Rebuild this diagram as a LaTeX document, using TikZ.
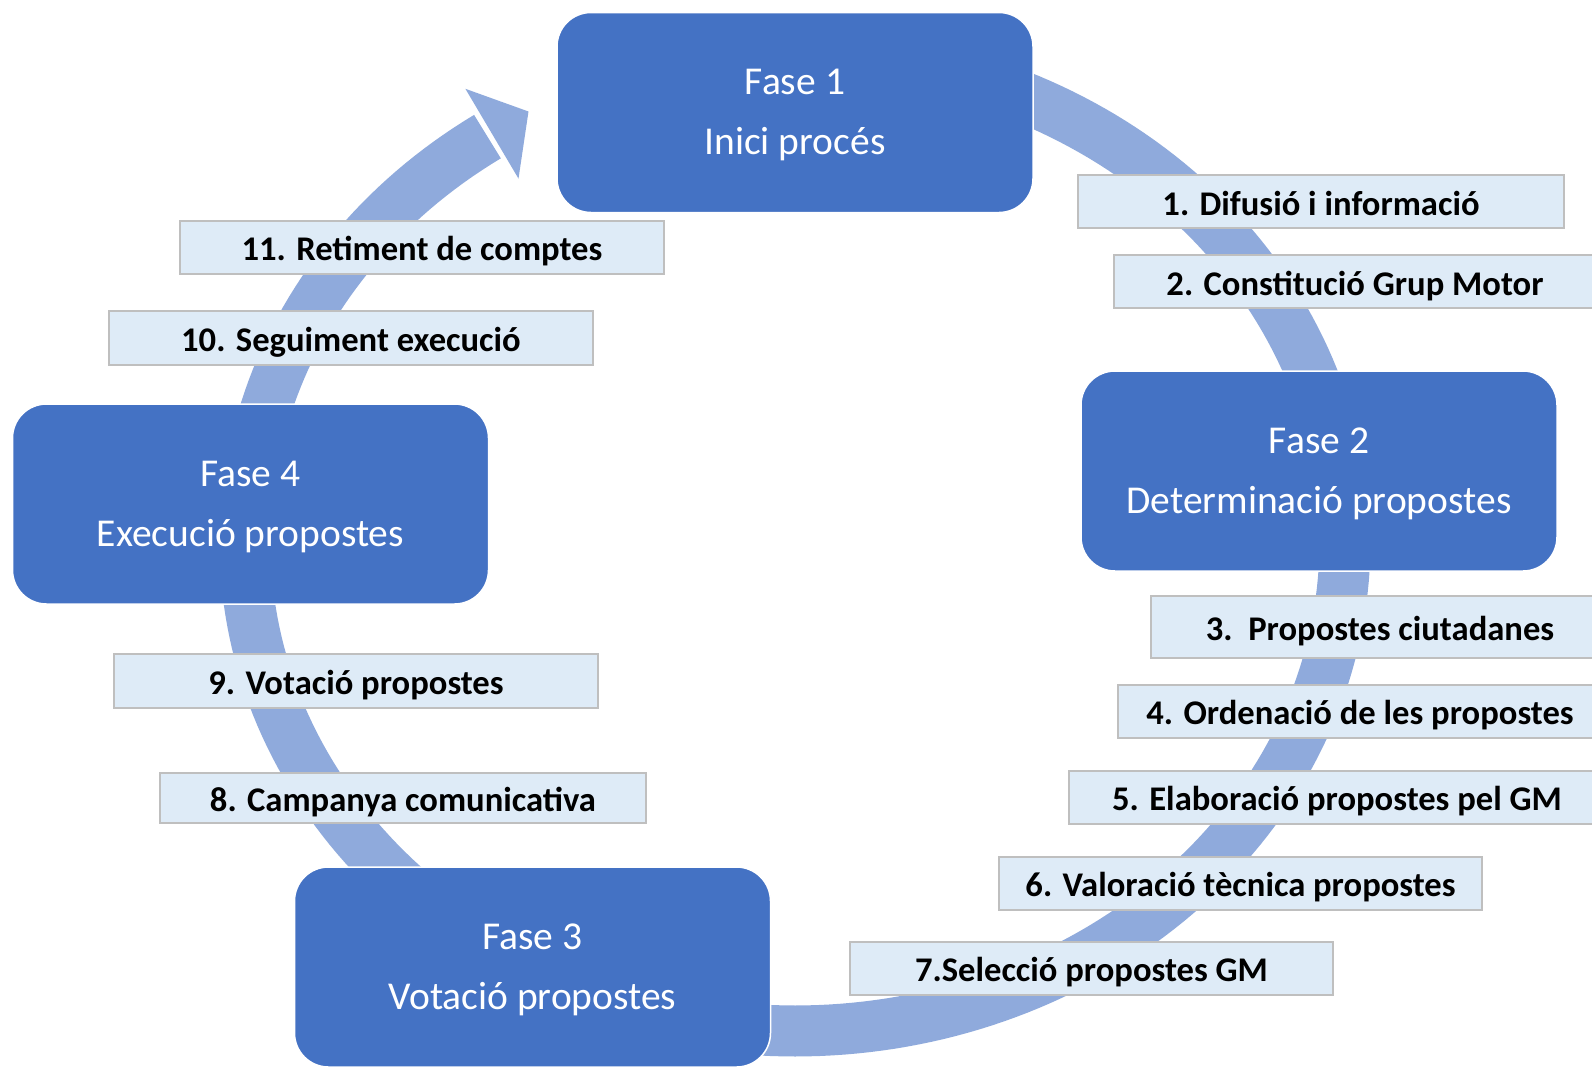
\documentclass[tikz,border=0pt]{standalone}
\usepackage{fontspec}
\setmainfont{Carlito}
\definecolor{phaseblue}{HTML}{4472C4}
\definecolor{ringblue}{HTML}{8FAADC}
\definecolor{labelfill}{HTML}{DEEBF7}
\definecolor{labelline}{HTML}{BFBFBF}
\newcommand{\phasetext}[2]{\begin{tabular}[t]{@{}c@{}}#1\\#2\end{tabular}}
\begin{document}
\begin{tikzpicture}[x=0.5pt,y=-0.5pt,
  phase/.style={draw=white, line width=0.75pt, fill=phaseblue, rounded corners=17pt,
    minimum width=238pt, minimum height=100pt, text=white, inner sep=0pt,
    font=\fontsize{19.75}{30}\selectfont, text height=10pt, text depth=27.6pt},
  steplabel/.style={draw=labelline, line width=1pt, fill=labelfill, inner sep=0pt,
    minimum height=26.5pt, font=\fontsize{17.3}{20}\selectfont\bfseries,
    text height=15pt, text depth=1.4pt},
  ring/.style={ringblue, line width=25.5pt}
]
\useasboundingbox (0,0) rectangle (1592,1067);
\clip (0,0) rectangle (1592,1067);
\fill[white] (0,0) rectangle (1592,1067);

% circular flow
\draw[ring] plot[domain=90:-236, samples=260] ({795+550*cos(\x)},{542-489*sin(\x)});
\coordinate (barbA) at (518.5,178.6);
\coordinate (tip) at (528.5,111.5);
\coordinate (barbB) at (465.4,88.8);
\fill[ringblue] (barbA) -- (tip) -- (barbB) -- cycle;

% phases
\node[phase] (f1) at (795,112.5) {\phasetext{Fase 1}{Inici procés}};
\node[phase] (f2) at (1319,471) {\phasetext{Fase 2}{Determinació propostes}};
\node[phase] (f3) at (532.5,967) {\phasetext{Fase 3}{Votació propostes}};
\node[phase] (f4) at (250.5,504) {\phasetext{Fase 4}{Execució propostes}};

% steps
\node[steplabel, minimum width=243pt] (l1) at (1321,201.5) {1. Difusió i informació};
\node[steplabel, minimum width=241pt] (l2) at (1355,281.5) {2. Constitució Grup Motor};
\node[steplabel, minimum width=229pt, minimum height=31pt] (l3) at (1380,627) {3.\ \ Propostes ciutadanes};
\node[steplabel, minimum width=242pt] (l4) at (1360,711) {4. Ordenació de les propostes};
\node[steplabel, minimum width=268pt] (l5) at (1337,797) {5. Elaboració propostes pel GM};
\node[steplabel, minimum width=241.5pt] (l6) at (1240.5,883) {6. Valoració tècnica propostes};
\node[steplabel, minimum width=241.5pt] (l7) at (1091.5,968) {7.Selecció propostes GM};
\node[steplabel, minimum width=243pt, minimum height=25pt] (l8) at (403,798) {8. Campanya comunicativa};
\node[steplabel, minimum width=242pt, minimum height=27pt] (l9) at (356,681) {9. Votació propostes};
\node[steplabel, minimum width=242pt, minimum height=27pt] (l10) at (351,338) {10. Seguiment execució};
\node[steplabel, minimum width=242pt] (l11) at (422,247) {11. Retiment de comptes};
\end{tikzpicture}
\end{document}
